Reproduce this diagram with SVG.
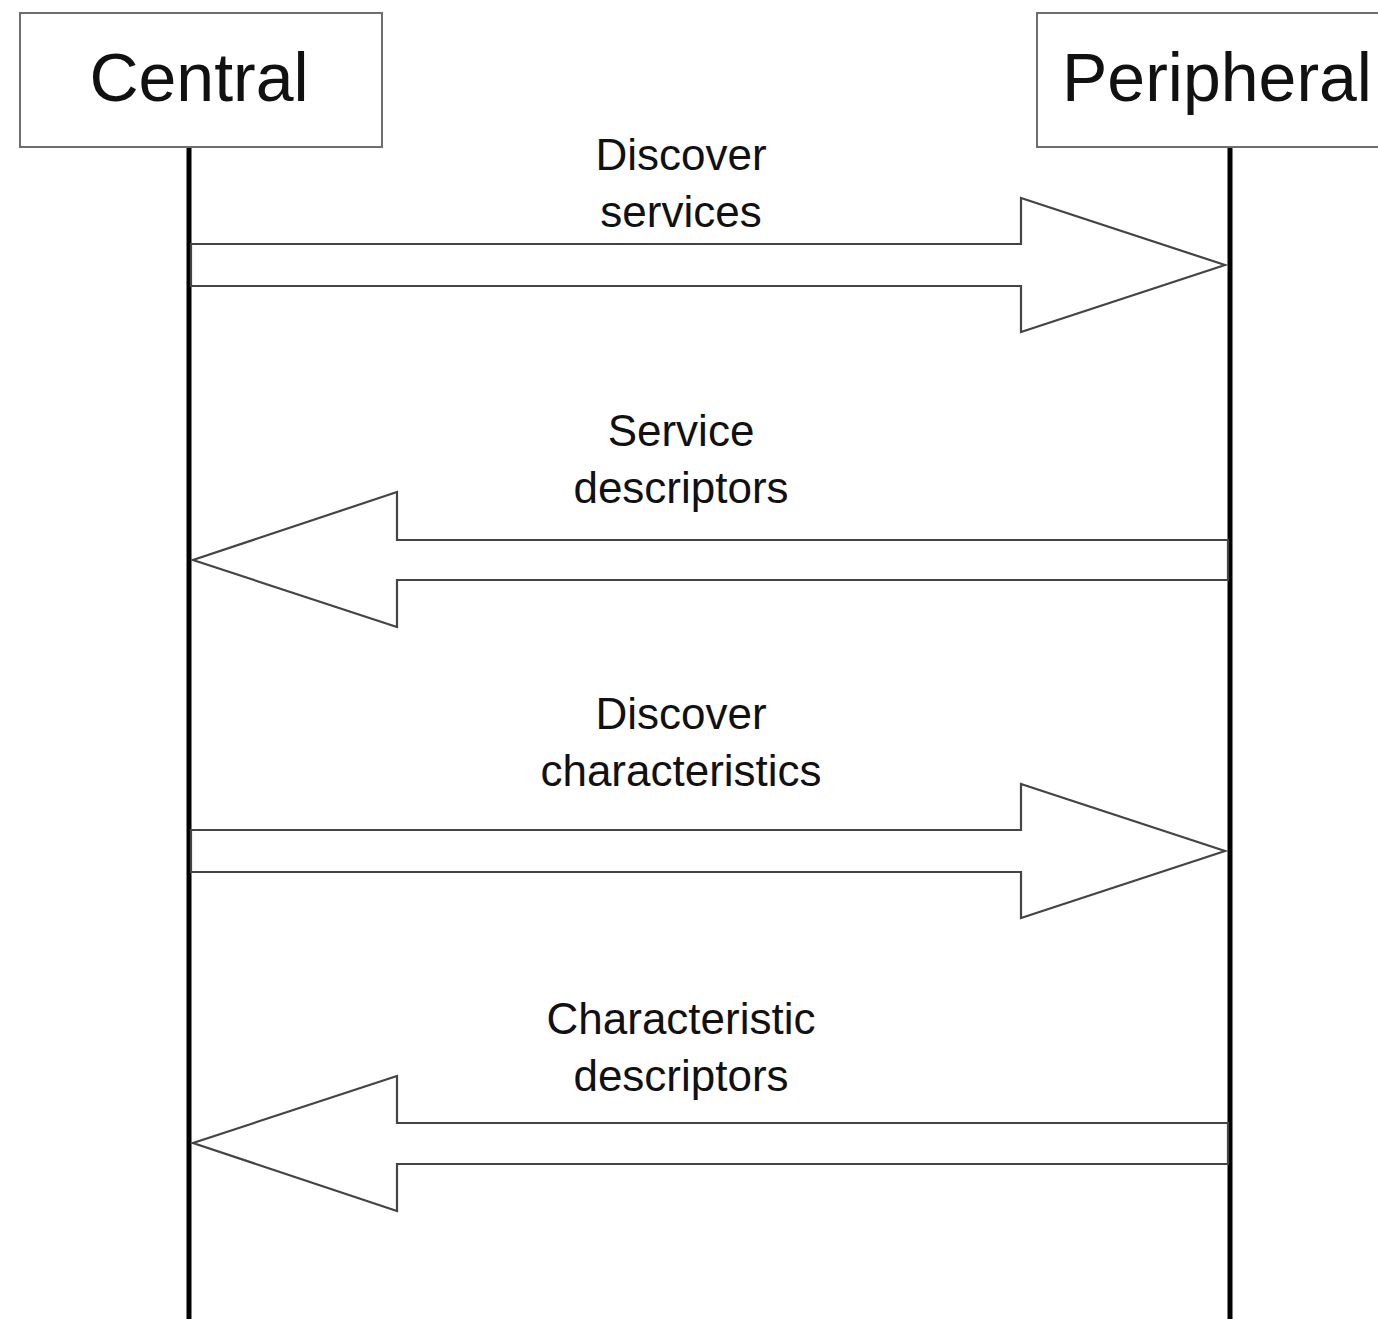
<svg xmlns="http://www.w3.org/2000/svg" width="1378" height="1319" viewBox="0 0 1378 1319">
<style>
.box{fill:#fff;stroke:#6e6e6e;stroke-width:2}
.life{stroke:#000;stroke-width:5}
.arr{fill:#fff;stroke:#444;stroke-width:2.2;stroke-linejoin:miter}
.t{font-family:"Liberation Sans",Arial,sans-serif;fill:#111;text-anchor:middle}
.big{font-size:68px}
.lbl{font-size:44px}
</style>
<rect width="1378" height="1319" fill="#fff"/>
<g id="lifelines">
<line class="life" x1="189" y1="147" x2="189" y2="1319"/>
<line class="life" x1="1230" y1="147" x2="1230" y2="1319"/>
</g>
<g id="central">
<rect class="box" x="20" y="13" width="362" height="134"/>
<text class="t big" x="199" y="101">Central</text>
</g>
<g id="peripheral">
<rect class="box" x="1037" y="13" width="345" height="134"/>
<text class="t big" x="1217" y="101">Peripheral</text>
</g>
<g id="connectors">
<polygon class="arr" points="191,244 1021,244 1021,198 1225,265 1021,332 1021,286 191,286"/>
<polygon class="arr" points="1228,540 397,540 397,492 193,560 397,627 397,580 1228,580"/>
<polygon class="arr" points="191,830 1021,830 1021,784 1225,851 1021,918 1021,872 191,872"/>
<polygon class="arr" points="1228,1123 397,1123 397,1076 193,1143 397,1211 397,1164 1228,1164"/>
</g>
<g id="labels">
<text class="t lbl" x="681" y="170">Discover</text>
<text class="t lbl" x="681" y="227">services</text>
<text class="t lbl" x="681" y="446">Service</text>
<text class="t lbl" x="681" y="503">descriptors</text>
<text class="t lbl" x="681" y="729">Discover</text>
<text class="t lbl" x="681" y="786">characteristics</text>
<text class="t lbl" x="681" y="1034">Characteristic</text>
<text class="t lbl" x="681" y="1091">descriptors</text>
</g>
</svg>
